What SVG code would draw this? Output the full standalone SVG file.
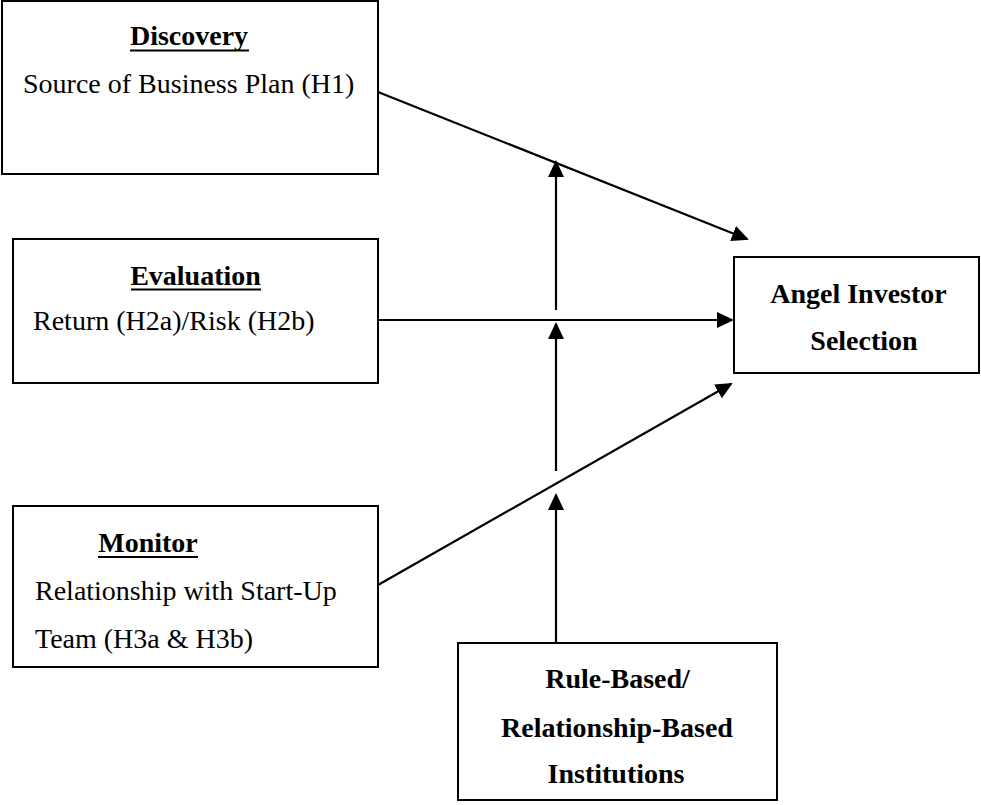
<svg xmlns="http://www.w3.org/2000/svg" width="981" height="805" viewBox="0 0 981 805">
<style>
.box{fill:#fff;stroke:#000;stroke-width:2}
.t{font-family:"Liberation Serif","Times New Roman",serif;font-size:28px;fill:#000}
.b{font-weight:bold}
.m{text-anchor:middle}
.ul{stroke:#000;stroke-width:2}
.c{stroke:#000;stroke-width:2.2;fill:none;marker-end:url(#ah)}
</style>
<defs>
<marker id="ah" markerUnits="userSpaceOnUse" markerWidth="18" markerHeight="18" viewBox="0 0 18 18" refX="15" refY="8" orient="auto">
<path d="M0,0 L17,8 L0,16 z" fill="#000"/>
</marker>
</defs>
<rect width="981" height="805" fill="#fff"/>
<g id="discovery">
<rect class="box" x="2" y="1" width="376" height="173"/>
<text class="t b m" x="189" y="45">Discovery</text>
<line class="ul" x1="130" y1="50.5" x2="249" y2="50.5"/>
<text class="t" x="23" y="93">Source of Business Plan (H1)</text>
</g>
<g id="evaluation">
<rect class="box" x="13" y="239" width="365" height="144"/>
<text class="t b m" x="195.5" y="285">Evaluation</text>
<line class="ul" x1="131" y1="289.5" x2="261" y2="289.5"/>
<text class="t" x="33" y="330">Return (H2a)/Risk (H2b)</text>
</g>
<g id="monitor">
<rect class="box" x="13" y="506" width="365" height="161"/>
<text class="t b m" x="148" y="552">Monitor</text>
<line class="ul" x1="98" y1="557" x2="198" y2="557"/>
<text class="t" x="35" y="600">Relationship with Start-Up</text>
<text class="t" x="35" y="648">Team (H3a &amp; H3b)</text>
</g>
<g id="angel">
<rect class="box" x="734" y="257" width="245" height="116"/>
<text class="t b m" x="858.5" y="303">Angel Investor</text>
<text class="t b m" x="864" y="350">Selection</text>
</g>
<g id="institutions">
<rect class="box" x="458" y="643" width="319" height="157"/>
<text class="t b m" x="617.5" y="688">Rule-Based/</text>
<text class="t b m" x="617" y="737">Relationship-Based</text>
<text class="t b m" x="616" y="783">Institutions</text>
</g>
<g id="connectors">
<line class="c" x1="378" y1="92" x2="747" y2="239"/>
<line class="c" x1="378" y1="320" x2="732" y2="320"/>
<line class="c" x1="378" y1="585" x2="731" y2="384"/>
<line class="c" x1="556" y1="643" x2="556" y2="495"/>
<line class="c" x1="556" y1="471" x2="556" y2="324"/>
<line class="c" x1="556" y1="310" x2="556" y2="162"/>
</g>
</svg>
